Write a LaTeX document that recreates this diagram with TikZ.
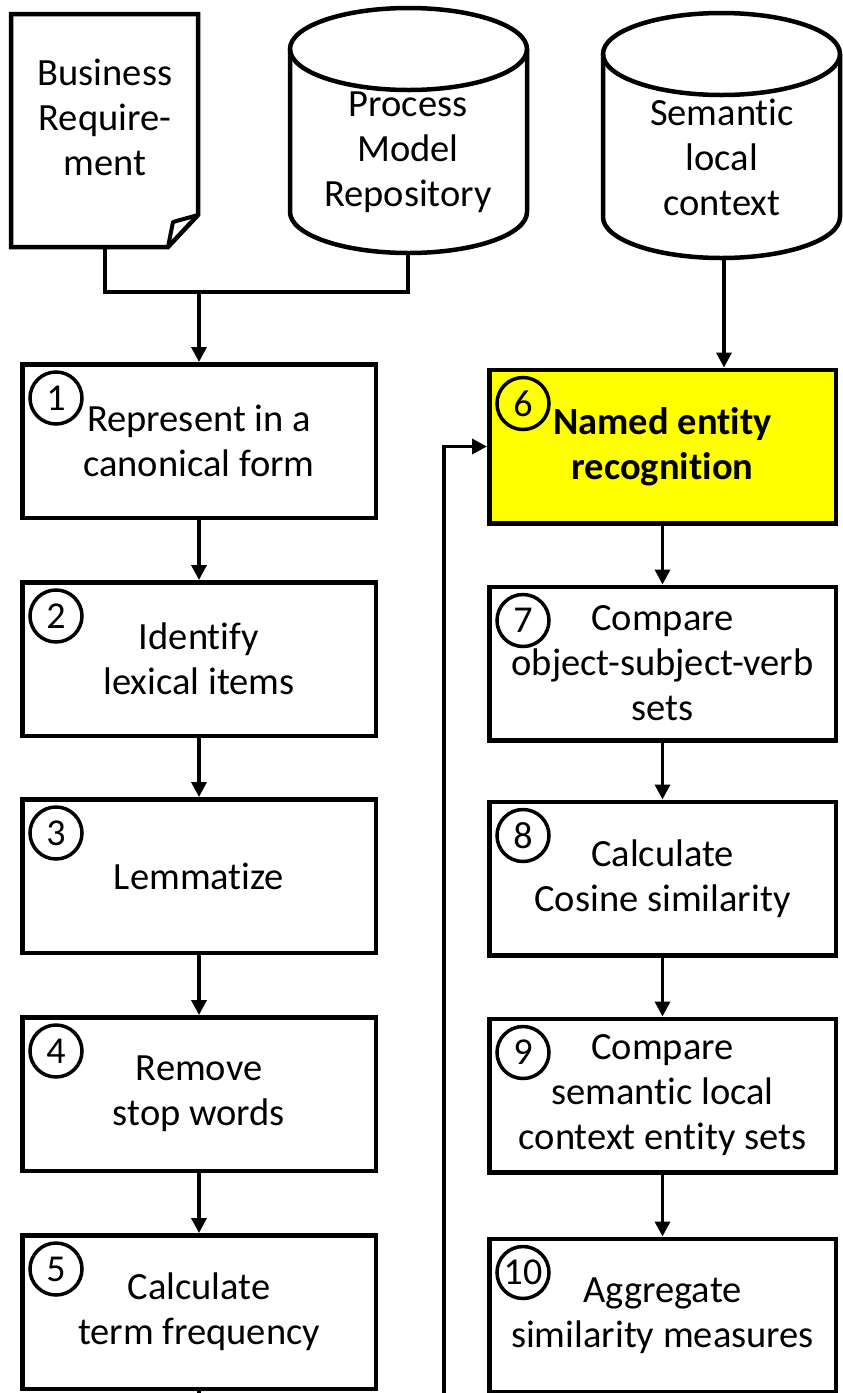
\documentclass[tikz,border=0pt]{standalone}
\usepackage{fontspec}
\setmainfont{Carlito}[Ligatures=NoCommon]
\usepackage{xcolor}
\usetikzlibrary{positioning,calc,arrows.meta}

\definecolor{stepyellow}{RGB}{255,255,0}

\tikzset{
    stepbox/.style={draw, line width=4.5pt, minimum width=353.5pt, minimum height=153.5pt,
        align=center, inner sep=0pt, font=\fontsize{38.5}{45}\selectfont},
    rightbox/.style={stepbox, minimum width=346.5pt},
    num/.style={draw, circle, line width=3.5pt, minimum size=52pt, inner sep=0pt,
        font=\fontsize{38}{45}\selectfont},
    store/.style={line width=4.5pt},
    label/.style={align=center, inner sep=0pt, font=\fontsize{38.5}{45}\selectfont},
    flow/.style={line width=3.5pt, -{Triangle[length=15pt,width=15pt]}},
    link/.style={line width=3.5pt}
}

\begin{document}
\begin{tikzpicture}[x=1pt,y=-1pt]
    \useasboundingbox (0,0) rectangle (843,1393);
    \clip (0,0) rectangle (843,1393);

    % Business requirement (document)
    \draw [store, line join=miter] (11,14) -- (198,14) -- (198,215) -- (168,247) -- (11,247) -- cycle;
    \draw [line width=4pt, line join=round] (198,215) -- (173,222) -- (168,247);
    \node [label] (req) at (105,117) {Business\\Require-\\ment};
    \coordinate (req-out) at (105,247);

    % Process model repository
    \draw [store, fill=white] (290,49) -- (290,212) arc[start angle=180, end angle=0, x radius=118.5, y radius=41] -- (527,49);
    \draw [store] (408.5,49) ellipse[x radius=118.5, y radius=41];
    \node [label] (repo) at (408,152) {Process\\Model\\Repository};
    \coordinate (repo-out) at (408,253);

    % Semantic local context
    \draw [store, fill=white] (603,54) -- (603,217) arc[start angle=180, end angle=0, x radius=118.5, y radius=41] -- (840,54);
    \draw [store] (721.5,54) ellipse[x radius=118.5, y radius=41];
    \node [label] (ctx) at (722,157) {Semantic\\local\\context};
    \coordinate (ctx-out) at (724,258);

    % left column
    \node [stepbox] (b1) at (199,441) {Represent in a\\canonical form};
    \node [stepbox, below=60pt of b1] (b2) {Identify\\lexical items};
    \node [stepbox, below=59pt of b2] (b3) {Lemmatize};
    \node [stepbox, below=60pt of b3] (b4) {Remove\\stop words};
    \node [stepbox, below=60pt of b4] (b5) {Calculate\\term frequency};

    % right column
    \node [rightbox, fill=stepyellow, font=\fontsize{38.5}{45}\selectfont\bfseries] (b6) at (662.5,446.5) {Named entity\\recognition};
    \node [rightbox, below=59pt of b6] (b7) {Compare\\object-subject-verb\\sets};
    \node [rightbox, below=57pt of b7] (b8) {Calculate\\Cosine similarity};
    \node [rightbox, below=59pt of b8] (b9) {Compare\\semantic local\\context entity sets};
    \node [rightbox, below=62pt of b9] (b10) {Aggregate\\similarity measures};

    % step numbers
    \foreach \i in {1,...,10}
        \node [num] (n\i) at ($(b\i.north west)+(36,36)$) {\i};

    % inputs to steps
    \coordinate (join) at (199,292);
    \draw [link] (req-out) |- (repo-out |- join) -- (repo-out);
    \draw [flow] (join) -- (b1.north);
    \draw [flow] (ctx-out) -- (ctx-out |- b6.north);

    % step sequence
    \foreach \a/\b in {b1/b2,b2/b3,b3/b4,b4/b5,b6/b7,b7/b8,b8/b9,b9/b10}
        \draw [flow] (\a.south) -- (\b.north);

    % from step 5 back up to step 6
    \draw [flow] (b5.south) -- ++(0,40) -| ($(b6.west)+(-43,0)$) -- (b6.west);
\end{tikzpicture}
\end{document}
